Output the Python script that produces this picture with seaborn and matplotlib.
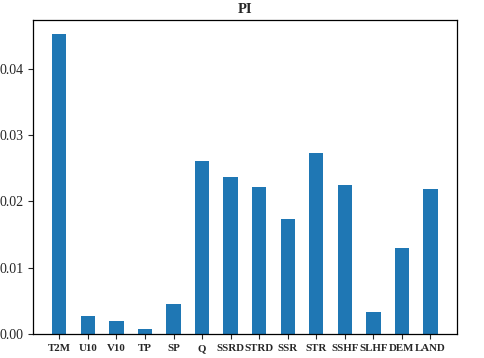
import matplotlib
matplotlib.use("Agg")
import matplotlib.pyplot as plt
import seaborn as sns

features = ["T2M", "U10", "V10", "TP", "SP", "Q", "SSRD", "STRD",
            "SSR", "STR", "SSHF", "SLHF", "DEM", "LAND"]
importance = [0.0452, 0.00275, 0.0020, 0.0007, 0.00447, 0.0261, 0.0237,
              0.0222, 0.0174, 0.0272, 0.0224, 0.00326, 0.0129, 0.0219]

sns.set_style("ticks")
plt.rcParams['font.family'] = ['Liberation Serif', 'DejaVu Serif']

fig = plt.figure(figsize=(4.84, 3.58), dpi=100)
ax = fig.add_axes([0.068, 0.067, 0.876, 0.877])
sns.barplot(x=features, y=importance, color="#1f77b4", saturation=1,
            width=0.5, linewidth=0, ax=ax)

ax.set_xlim(-0.925, 13.925)
ax.set_ylim(0, 0.0473)
ax.set_yticks([0.0, 0.01, 0.02, 0.03, 0.04])
ax.set_yticklabels(["0.00", "0.01", "0.02", "0.03", "0.04"])
ax.set_title("PI", fontsize=10.5, fontweight="bold", pad=5)
ax.tick_params(axis="x", labelsize=7.8, pad=4)
ax.tick_params(axis="y", labelsize=10)
for lbl in ax.get_xticklabels():
    lbl.set_fontweight("bold")
for s in ax.spines.values():
    s.set_visible(True)
    s.set_color("black")
    s.set_linewidth(0.9)

fig.savefig("out.png", dpi=100, facecolor="white")
